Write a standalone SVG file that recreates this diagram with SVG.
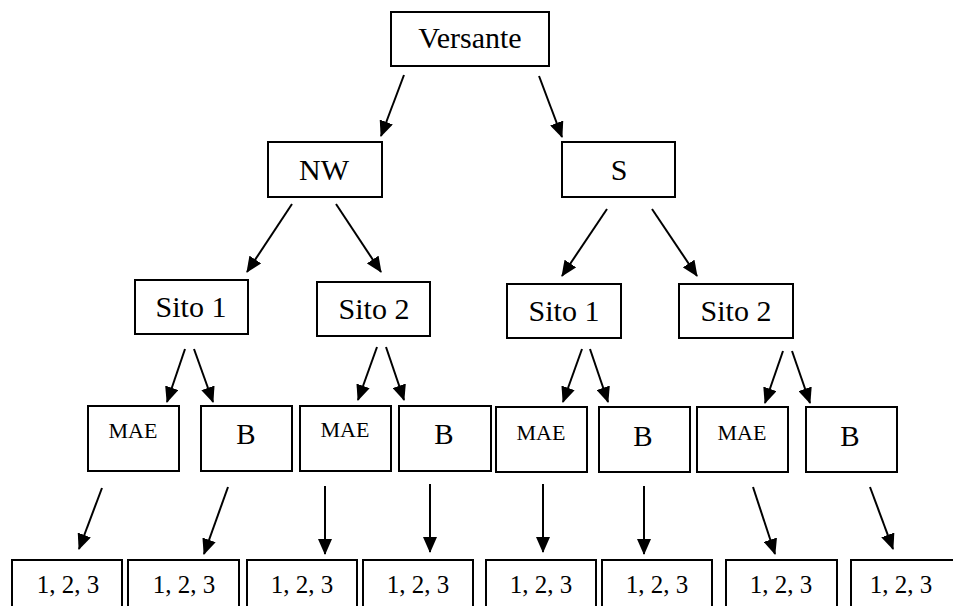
<svg xmlns="http://www.w3.org/2000/svg" width="953" height="606" viewBox="0 0 953 606">
<style>
rect{fill:#fff;stroke:#000;stroke-width:2}
text{font-family:"Liberation Serif","Times New Roman",serif;fill:#000;text-anchor:middle}
.l{font-size:30px}
.m{font-size:22px}
.b{font-size:29px}
.n{font-size:25px}
#edges line{stroke:#000;stroke-width:2;marker-end:url(#ah)}
</style>
<defs>
<marker id="ah" markerWidth="16" markerHeight="14" refX="15" refY="7" orient="auto" markerUnits="userSpaceOnUse">
<path d="M0,0 L16,7 L0,14 Z" fill="#000"/>
</marker>
</defs>
<rect width="953" height="606" style="fill:#fff;stroke:none"/>
<g id="edges">
<line x1="404" y1="75" x2="381" y2="136"/>
<line x1="539" y1="76" x2="562" y2="137"/>
<line x1="292" y1="204" x2="247" y2="272"/>
<line x1="336" y1="204" x2="381" y2="272"/>
<line x1="607" y1="209" x2="562" y2="276"/>
<line x1="652" y1="209" x2="697" y2="276"/>
<line x1="185" y1="349" x2="167" y2="402"/>
<line x1="194" y1="349" x2="213" y2="402"/>
<line x1="377" y1="347" x2="358" y2="400"/>
<line x1="386" y1="347" x2="404" y2="400"/>
<line x1="582" y1="349" x2="563" y2="402"/>
<line x1="590" y1="349" x2="608" y2="402"/>
<line x1="783" y1="351" x2="765" y2="403"/>
<line x1="792" y1="351" x2="810" y2="403"/>
<line x1="102" y1="488" x2="79" y2="549"/>
<line x1="228" y1="487" x2="204" y2="554"/>
<line x1="325" y1="486" x2="325" y2="554"/>
<line x1="430" y1="484" x2="430" y2="552"/>
<line x1="543" y1="484" x2="543" y2="552"/>
<line x1="644" y1="486" x2="644" y2="554"/>
<line x1="753" y1="487" x2="775" y2="554"/>
<line x1="870" y1="487" x2="893" y2="549"/>
</g>
<g id="versante"><rect x="391" y="12" width="158" height="54"/><text class="l" x="470" y="48">Versante</text></g>
<g id="nw"><rect x="268" y="142" width="114" height="55"/><text class="l" x="324" y="180">NW</text></g>
<g id="s"><rect x="562" y="142" width="113" height="55"/><text class="l" x="619" y="180">S</text></g>
<g id="nw-sito1"><rect x="135" y="280" width="113" height="54"/><text class="l" x="191" y="317">Sito 1</text></g>
<g id="nw-sito2"><rect x="317" y="282" width="113" height="54"/><text class="l" x="374" y="319">Sito 2</text></g>
<g id="s-sito1"><rect x="507" y="284" width="114" height="54"/><text class="l" x="564" y="321">Sito 1</text></g>
<g id="s-sito2"><rect x="679" y="284" width="114" height="54"/><text class="l" x="736" y="321">Sito 2</text></g>
<g id="mae1"><rect x="88" y="406" width="91" height="65"/><text class="m" x="133" y="438">MAE</text></g>
<g id="b1"><rect x="201" y="406" width="91" height="65"/><text class="b" x="246" y="444">B</text></g>
<g id="mae2"><rect x="300" y="406" width="91" height="65"/><text class="m" x="345" y="437">MAE</text></g>
<g id="b2"><rect x="399" y="406" width="92" height="65"/><text class="b" x="444" y="444">B</text></g>
<g id="mae3"><rect x="496" y="407" width="91" height="65"/><text class="m" x="541" y="440">MAE</text></g>
<g id="b3"><rect x="599" y="407" width="91" height="65"/><text class="b" x="643" y="446">B</text></g>
<g id="mae4"><rect x="697" y="407" width="91" height="65"/><text class="m" x="742" y="440">MAE</text></g>
<g id="b4"><rect x="806" y="407" width="91" height="65"/><text class="b" x="850" y="446">B</text></g>
<g id="r1"><rect x="12" y="560" width="110" height="60"/><text class="n" x="68" y="593">1, 2, 3</text></g>
<g id="r2"><rect x="128" y="560" width="111" height="60"/><text class="n" x="184" y="593">1, 2, 3</text></g>
<g id="r3"><rect x="247" y="560" width="110" height="60"/><text class="n" x="302" y="593">1, 2, 3</text></g>
<g id="r4"><rect x="363" y="560" width="110" height="60"/><text class="n" x="418" y="593">1, 2, 3</text></g>
<g id="r5"><rect x="486" y="560" width="110" height="60"/><text class="n" x="541" y="593">1, 2, 3</text></g>
<g id="r6"><rect x="602" y="560" width="110" height="60"/><text class="n" x="657" y="593">1, 2, 3</text></g>
<g id="r7"><rect x="726" y="560" width="111" height="60"/><text class="n" x="781" y="593">1, 2, 3</text></g>
<g id="r8"><rect x="851" y="560" width="110" height="60"/><text class="n" x="901" y="593">1, 2, 3</text></g>
</svg>
